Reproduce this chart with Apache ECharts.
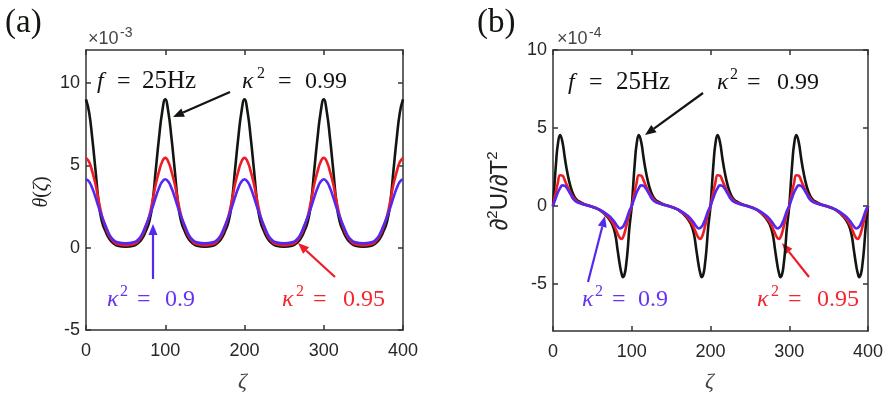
<!DOCTYPE html>
<html>
<head>
<meta charset="utf-8">
<script src="https://cdn.jsdelivr.net/npm/echarts@6/dist/echarts.min.js"></script>
<style>
  html, body { margin: 0; padding: 0; background: #fff; }
  #main { width: 892px; height: 397px; }
</style>
</head>
<body>
<div id="main"></div>
<script>
// ---- data ----
// panel (a): theta(zeta), x10^-3
const zetaA = [
  0, 4, 8, 12, 16, 20, 25, 30, 35, 40, 50, 60, 65, 70, 75, 80, 84, 88, 92, 96,
  100, 104, 108, 112, 116, 120, 125, 130, 135, 140, 150, 160, 165, 170, 175, 180, 184, 188, 192, 196,
  200, 204, 208, 212, 216, 220, 225, 230, 235, 240, 250, 260, 265, 270, 275, 280, 284, 288, 292, 296,
  300, 304, 308, 312, 316, 320, 325, 330, 335, 340, 350, 360, 365, 370, 375, 380, 384, 388, 392, 396,
  400
];
const thetaK99 = [
  9.0, 8.2, 6.6, 4.7, 2.75, 1.6, 0.95, 0.5, 0.25, 0.12, 0.06, 0.12, 0.25, 0.5, 0.95, 1.6, 2.75, 4.7, 6.6, 8.2,
  9.0, 8.2, 6.6, 4.7, 2.75, 1.6, 0.95, 0.5, 0.25, 0.12, 0.06, 0.12, 0.25, 0.5, 0.95, 1.6, 2.75, 4.7, 6.6, 8.2,
  9.0, 8.2, 6.6, 4.7, 2.75, 1.6, 0.95, 0.5, 0.25, 0.12, 0.06, 0.12, 0.25, 0.5, 0.95, 1.6, 2.75, 4.7, 6.6, 8.2,
  9.0, 8.2, 6.6, 4.7, 2.75, 1.6, 0.95, 0.5, 0.25, 0.12, 0.06, 0.12, 0.25, 0.5, 0.95, 1.6, 2.75, 4.7, 6.6, 8.2,
  9.0
];
const thetaK95 = [
  5.45, 5.2, 4.6, 3.85, 2.85, 1.95, 1.2, 0.65, 0.35, 0.2, 0.14, 0.2, 0.35, 0.65, 1.2, 1.95, 2.85, 3.85, 4.6, 5.2,
  5.45, 5.2, 4.6, 3.85, 2.85, 1.95, 1.2, 0.65, 0.35, 0.2, 0.14, 0.2, 0.35, 0.65, 1.2, 1.95, 2.85, 3.85, 4.6, 5.2,
  5.45, 5.2, 4.6, 3.85, 2.85, 1.95, 1.2, 0.65, 0.35, 0.2, 0.14, 0.2, 0.35, 0.65, 1.2, 1.95, 2.85, 3.85, 4.6, 5.2,
  5.45, 5.2, 4.6, 3.85, 2.85, 1.95, 1.2, 0.65, 0.35, 0.2, 0.14, 0.2, 0.35, 0.65, 1.2, 1.95, 2.85, 3.85, 4.6, 5.2,
  5.45
];
const thetaK90 = [
  4.15, 4.0, 3.6, 3.05, 2.45, 1.9, 1.3, 0.75, 0.45, 0.32, 0.26, 0.32, 0.45, 0.75, 1.3, 1.9, 2.45, 3.05, 3.6, 4.0,
  4.15, 4.0, 3.6, 3.05, 2.45, 1.9, 1.3, 0.75, 0.45, 0.32, 0.26, 0.32, 0.45, 0.75, 1.3, 1.9, 2.45, 3.05, 3.6, 4.0,
  4.15, 4.0, 3.6, 3.05, 2.45, 1.9, 1.3, 0.75, 0.45, 0.32, 0.26, 0.32, 0.45, 0.75, 1.3, 1.9, 2.45, 3.05, 3.6, 4.0,
  4.15, 4.0, 3.6, 3.05, 2.45, 1.9, 1.3, 0.75, 0.45, 0.32, 0.26, 0.32, 0.45, 0.75, 1.3, 1.9, 2.45, 3.05, 3.6, 4.0,
  4.15
];

// panel (b): d2U/dT2, x10^-4
const zetaB = [
  0, 2, 4, 6, 9, 12, 15, 18, 22, 26, 30, 35, 40, 45, 50, 55, 60, 65, 70, 75, 79, 82, 85, 87, 89, 91, 93, 95, 97,
  100, 102, 104, 106, 109, 112, 115, 118, 122, 126, 130, 135, 140, 145, 150, 155, 160, 165, 170, 175, 179, 182, 185, 187, 189, 191, 193, 195, 197,
  200, 202, 204, 206, 209, 212, 215, 218, 222, 226, 230, 235, 240, 245, 250, 255, 260, 265, 270, 275, 279, 282, 285, 287, 289, 291, 293, 295, 297,
  300, 302, 304, 306, 309, 312, 315, 318, 322, 326, 330, 335, 340, 345, 350, 355, 360, 365, 370, 375, 379, 382, 385, 387, 389, 391, 393, 395, 397,
  400
];
const uttK99 = [
  0, 1.45, 2.85, 3.9, 4.55, 4.1, 3.1, 2.2, 1.3, 0.72, 0.42, 0.25, 0.12, 0.04, -0.04, -0.14, -0.28, -0.48, -0.75, -1.15, -1.8, -2.8, -3.8, -4.3, -4.55, -4.35, -3.7, -2.7, -1.4,
  0, 1.45, 2.85, 3.9, 4.55, 4.1, 3.1, 2.2, 1.3, 0.72, 0.42, 0.25, 0.12, 0.04, -0.04, -0.14, -0.28, -0.48, -0.75, -1.15, -1.8, -2.8, -3.8, -4.3, -4.55, -4.35, -3.7, -2.7, -1.4,
  0, 1.45, 2.85, 3.9, 4.55, 4.1, 3.1, 2.2, 1.3, 0.72, 0.42, 0.25, 0.12, 0.04, -0.04, -0.14, -0.28, -0.48, -0.75, -1.15, -1.8, -2.8, -3.8, -4.3, -4.55, -4.35, -3.7, -2.7, -1.4,
  0, 1.45, 2.85, 3.9, 4.55, 4.1, 3.1, 2.2, 1.3, 0.72, 0.42, 0.25, 0.12, 0.04, -0.04, -0.14, -0.28, -0.48, -0.75, -1.15, -1.8, -2.8, -3.8, -4.3, -4.55, -4.35, -3.7, -2.7, -1.4,
  0
];
const uttK95 = [
  0, 0.5, 1.0, 1.45, 1.98, 1.95, 1.65, 1.3, 0.88, 0.55, 0.33, 0.2, 0.1, 0.03, -0.04, -0.13, -0.27, -0.45, -0.68, -1.0, -1.4, -1.75, -2.05, -2.1, -1.98, -1.7, -1.3, -0.88, -0.45,
  0, 0.5, 1.0, 1.45, 1.98, 1.95, 1.65, 1.3, 0.88, 0.55, 0.33, 0.2, 0.1, 0.03, -0.04, -0.13, -0.27, -0.45, -0.68, -1.0, -1.4, -1.75, -2.05, -2.1, -1.98, -1.7, -1.3, -0.88, -0.45,
  0, 0.5, 1.0, 1.45, 1.98, 1.95, 1.65, 1.3, 0.88, 0.55, 0.33, 0.2, 0.1, 0.03, -0.04, -0.13, -0.27, -0.45, -0.68, -1.0, -1.4, -1.75, -2.05, -2.1, -1.98, -1.7, -1.3, -0.88, -0.45,
  0, 0.5, 1.0, 1.45, 1.98, 1.95, 1.65, 1.3, 0.88, 0.55, 0.33, 0.2, 0.1, 0.03, -0.04, -0.13, -0.27, -0.45, -0.68, -1.0, -1.4, -1.75, -2.05, -2.1, -1.98, -1.7, -1.3, -0.88, -0.45,
  0
];
const uttK90 = [
  0, 0.3, 0.58, 0.85, 1.15, 1.33, 1.3, 1.12, 0.78, 0.45, 0.27, 0.17, 0.09, 0.02, -0.05, -0.14, -0.25, -0.4, -0.58, -0.82, -1.08, -1.3, -1.43, -1.4, -1.3, -1.12, -0.88, -0.6, -0.3,
  0, 0.3, 0.58, 0.85, 1.15, 1.33, 1.3, 1.12, 0.78, 0.45, 0.27, 0.17, 0.09, 0.02, -0.05, -0.14, -0.25, -0.4, -0.58, -0.82, -1.08, -1.3, -1.43, -1.4, -1.3, -1.12, -0.88, -0.6, -0.3,
  0, 0.3, 0.58, 0.85, 1.15, 1.33, 1.3, 1.12, 0.78, 0.45, 0.27, 0.17, 0.09, 0.02, -0.05, -0.14, -0.25, -0.4, -0.58, -0.82, -1.08, -1.3, -1.43, -1.4, -1.3, -1.12, -0.88, -0.6, -0.3,
  0, 0.3, 0.58, 0.85, 1.15, 1.33, 1.3, 1.12, 0.78, 0.45, 0.27, 0.17, 0.09, 0.02, -0.05, -0.14, -0.25, -0.4, -0.58, -0.82, -1.08, -1.3, -1.43, -1.4, -1.3, -1.12, -0.88, -0.6, -0.3,
  0
];

const xTicks = [0, 100, 200, 300, 400];
const yTicksA = [-5, 0, 5, 10];
const yTicksB = [-5, 0, 5, 10];

// ---- styling ----
const BLACK = '#111611';
const RED = '#ee1c25';
const BLUE = '#5528f0';
const RED_TXT = '#f2262e';
const BLUE_TXT = '#6633f2';
const AXIS = '#333';
const SERIF = '"Liberation Serif", "DejaVu Serif", serif';
const SANS = '"Liberation Sans", Arial, sans-serif';

function xAxis(grid, pos) {
  return {
    type: 'value', gridIndex: grid, position: pos, min: 0, max: 400,
    axisLine: { show: true, onZero: false, lineStyle: { color: AXIS, width: 1.5 } },
    axisTick: { show: true, inside: true, length: 5, customValues: xTicks, lineStyle: { color: AXIS, width: 1.5 } },
    axisLabel: { show: pos === 'bottom', customValues: xTicks, margin: 12, color: '#262626', fontSize: 18, fontFamily: SANS },
    splitLine: { show: false }
  };
}
function yAxis(grid, pos, min, max, ticks) {
  return {
    type: 'value', gridIndex: grid, position: pos, min: min, max: max,
    axisLine: { show: true, onZero: false, lineStyle: { color: AXIS, width: 1.5 } },
    axisTick: { show: true, inside: true, length: 5, customValues: ticks, lineStyle: { color: AXIS, width: 1.5 } },
    axisLabel: { show: pos === 'left', customValues: ticks, margin: 6, color: '#262626', fontSize: 18, fontFamily: SANS },
    splitLine: { show: false }
  };
}
function line(xi, zeta, vals, color) {
  return {
    type: 'line', xAxisIndex: xi, yAxisIndex: xi,
    data: zeta.map((z, i) => [z, vals[i]]),
    showSymbol: false, smooth: true, silent: true,
    lineStyle: { color: color, width: 2.6 },
    itemStyle: { color: color }
  };
}

// ---- annotation helpers ----
function txt(x, base, s, size, o) {
  return {
    type: 'text', x: x, y: base - 0.32 * size,
    style: Object.assign({
      text: s, fill: BLACK, font: size + 'px ' + SERIF,
      align: 'left', verticalAlign: 'middle', textAlign: 'left', textVerticalAlign: 'middle'
    }, o || {})
  };
}
function kappa(base, pos, value, color) {
  // pos = [x of kappa, x of superscript, x of '=', x of number]
  return [
    txt(pos[0], base, 'κ', 24, { fill: color, font: 'italic 24px ' + SERIF }),
    txt(pos[1], base - 10, '2', 16, { fill: color }),
    txt(pos[2], base, '=', 24, { fill: color }),
    txt(pos[3], base, value, 24, { fill: color })
  ];
}
function freq(pos, base) {
  return [
    txt(pos[0], base, 'f', 24, { font: 'italic 24px ' + SERIF }),
    txt(pos[1], base, '=', 24),
    txt(pos[2], base, '25Hz', 25, { font: '25px ' + SERIF })
  ];
}
function arrow(x1, y1, x2, y2, color) {
  const a = Math.atan2(y2 - y1, x2 - x1), L = 11, W = 4.5;
  const bx = x2 - L * Math.cos(a), by = y2 - L * Math.sin(a);
  const px = -Math.sin(a) * W, py = Math.cos(a) * W;
  return [
    { type: 'line', shape: { x1: x1, y1: y1, x2: bx, y2: by }, style: { stroke: color, lineWidth: 2.2 } },
    { type: 'polygon', shape: { points: [[x2, y2], [bx + px, by + py], [bx - px, by - py]] }, style: { fill: color } }
  ];
}
const mctx = document.createElement('canvas').getContext('2d');
function textWidth(s, font) { mctx.font = font; return mctx.measureText(s).width; }
function rotatedLabel(cx, cy, parts) {
  // parts: [text, font, rise]
  let total = 0;
  parts.forEach(p => { total += textWidth(p[0], p[1]); });
  let cur = -total / 2;
  const children = parts.map(p => {
    const el = {
      type: 'text', x: cur, y: -p[2],
      style: { text: p[0], font: p[1], fill: '#222', align: 'left', verticalAlign: 'middle', textAlign: 'left', textVerticalAlign: 'middle' }
    };
    cur += textWidth(p[0], p[1]);
    return el;
  });
  return { type: 'group', x: cx, y: cy, rotation: Math.PI / 2, children: children };
}
function exponent(x, base, p) {
  return [
    txt(x, base, '×10', 18, { fill: '#444', font: '18px ' + SANS }),
    txt(x + 32, base - 7, p, 14, { fill: '#444', font: '14px ' + SANS })
  ];
}

const graphics = [].concat(
  // panel (a)
  [txt(5, 34, '(a)', 33)],
  exponent(88, 45, '-3'),
  freq([97, 117, 142], 89),
  kappa(89, [242, 257, 278, 305], '0.99', BLACK),
  arrow(230, 92, 173, 117, BLACK),
  arrow(153, 279, 153, 224, BLUE),
  kappa(307, [107, 120, 137, 165], '0.9', BLUE_TXT),
  arrow(335, 277, 298, 243, RED),
  kappa(307, [282, 296, 313, 343], '0.95', RED_TXT),
  [txt(238, 389, 'ζ', 22, { font: 'italic 22px ' + SERIF, fill: '#444' })],
  [rotatedLabel(42, 192, [
    ['θ', 'italic 20px ' + SERIF, 0],
    ['(', '20px ' + SERIF, 0],
    ['ζ', 'italic 20px ' + SERIF, 0],
    [')', '20px ' + SERIF, 0]
  ])],
  // panel (b)
  [txt(477, 34, '(b)', 33)],
  exponent(557, 45, '-4'),
  freq([568, 589, 616], 90),
  kappa(90, [717, 730, 747, 777], '0.99', BLACK),
  arrow(703, 93, 645, 135, BLACK),
  arrow(588, 282, 605, 216, BLUE),
  kappa(307, [582, 595, 612, 638], '0.9', BLUE_TXT),
  arrow(809, 277, 782, 243, RED),
  kappa(307, [757, 771, 788, 817], '0.95', RED_TXT),
  [txt(705, 389, 'ζ', 22, { font: 'italic 22px ' + SERIF, fill: '#444' })],
  [rotatedLabel(500, 191, [
    ['∂', '24px ' + SANS, 0],
    ['2', '15px ' + SANS, 7],
    ['U/∂T', '24px ' + SANS, 0],
    ['2', '15px ' + SANS, 7]
  ])]
);

const chart = echarts.init(document.getElementById('main'));
chart.setOption({
  animation: false,
  backgroundColor: '#fff',
  grid: [
    { left: 86, top: 50, width: 317, height: 280 },
    { left: 553, top: 50, width: 315, height: 281 }
  ],
  xAxis: [xAxis(0, 'bottom'), xAxis(1, 'bottom'), xAxis(0, 'top'), xAxis(1, 'top')],
  yAxis: [
    yAxis(0, 'left', -5, 12, yTicksA), yAxis(1, 'left', -8, 10, yTicksB),
    yAxis(0, 'right', -5, 12, yTicksA), yAxis(1, 'right', -8, 10, yTicksB)
  ],
  series: [
    line(0, zetaA, thetaK99, BLACK),
    line(0, zetaA, thetaK95, RED),
    line(0, zetaA, thetaK90, BLUE),
    line(1, zetaB, uttK99, BLACK),
    line(1, zetaB, uttK95, RED),
    line(1, zetaB, uttK90, BLUE)
  ],
  graphic: { elements: graphics }
});
</script>
</body>
</html>
